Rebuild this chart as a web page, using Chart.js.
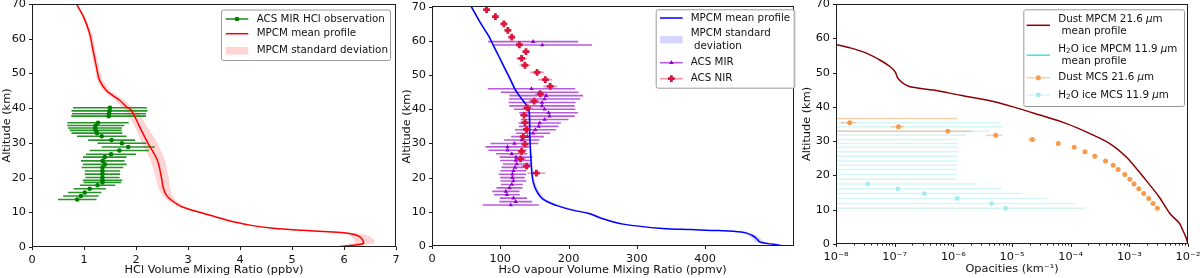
<!DOCTYPE html>
<html>
<head>
<meta charset="utf-8">
<script src="https://cdn.jsdelivr.net/npm/chart.js@4.4.1/dist/chart.umd.min.js"></script>
<style>
  html, body { margin: 0; padding: 0; background: #fff; }
  #wrap { position: relative; width: 1200px; height: 278px; overflow: hidden; }
  canvas { position: absolute; top: 0; }
</style>
</head>
<body>
<div id="wrap">
  <canvas id="hcl" width="400" height="278" style="left:0"></canvas>
  <canvas id="h2o" width="400" height="278" style="left:400px"></canvas>
  <canvas id="opa" width="400" height="278" style="left:800px"></canvas>
</div>
<script>
// ---------- panel 1: HCl ----------
const hclProfileAlt = [0, 0.5, 1, 2, 3, 3.6, 4.1, 4.5, 4.8, 5.4, 6.3, 7.8, 9.7, 11.6, 13.5, 15, 17.3, 20, 25, 29.8, 34.6, 39.4, 40.3, 42.2, 43.7, 45.1, 48, 51.8, 56.6, 61.4, 66, 70];
const hclMean = [5.83, 6.15, 6.37, 6.36, 6.30, 6.20, 6.00, 5.60, 5.20, 4.64, 4.19, 3.74, 3.29, 2.88, 2.68, 2.58, 2.52, 2.49, 2.41, 2.235, 2.07, 1.91, 1.82, 1.69, 1.55, 1.43, 1.30, 1.24, 1.175, 1.11, 1.00, 0.854];
const hclLow = [5.80, 6.05, 6.20, 6.20, 6.15, 6.08, 5.90, 5.50, 5.12, 4.58, 4.14, 3.70, 3.24, 2.82, 2.60, 2.50, 2.42, 2.38, 2.28, 2.12, 1.98, 1.80, 1.72, 1.61, 1.48, 1.37, 1.25, 1.20, 1.14, 1.08, 0.98, 0.84];
const hclHigh = [5.90, 6.35, 6.58, 6.58, 6.50, 6.38, 6.15, 5.72, 5.30, 4.70, 4.24, 3.80, 3.34, 2.94, 2.76, 2.70, 2.65, 2.63, 2.56, 2.42, 2.22, 2.02, 1.93, 1.78, 1.63, 1.50, 1.36, 1.29, 1.22, 1.16, 1.03, 0.87];

const hclObsAlt = [13.7, 14.7, 15.7, 16.8, 17.8, 18.6, 19.2, 20.0, 21.0, 21.9, 22.9, 23.8, 24.8, 25.9, 26.7, 27.8, 28.8, 29.9, 30.8, 31.9, 32.8, 33.6, 34.3, 35.0, 35.8, 37.7, 38.4, 39.2, 40.1];
const hclObs = [0.87, 0.94, 1.015, 1.11, 1.26, 1.355, 1.355, 1.355, 1.355, 1.355, 1.355, 1.40, 1.36, 1.40, 1.52, 1.68, 1.85, 1.73, 1.53, 1.34, 1.25, 1.225, 1.21, 1.225, 1.27, 1.475, 1.48, 1.49, 1.50];
const hclObsErr = [0.37, 0.34, 0.32, 0.31, 0.34, 0.36, 0.38, 0.33, 0.34, 0.34, 0.40, 0.42, 0.42, 0.42, 0.48, 0.57, 0.51, 0.47, 0.45, 0.475, 0.49, 0.50, 0.52, 0.55, 0.59, 0.72, 0.71, 0.73, 0.71];

// ---------- panel 2: H2O vapour ----------
const h2oProfileAlt = [0, 0.5, 0.8, 1.2, 2.0, 3.0, 3.7, 4.1, 4.5, 4.8, 5.1, 6.4, 8.0, 9.5, 10.5, 11.9, 13.7, 16.2, 19.0, 22.9, 31.8, 39.3, 41.2, 43.1, 45.8, 47.9, 51.7, 55.6, 58.9, 61.4, 65.2, 70];
const h2oMean = [516, 500, 488, 480, 476, 470, 462, 453, 420, 380, 338, 280, 250, 230, 206, 182, 162.5, 153, 148, 145.7, 143.3, 142.3, 138.4, 131.2, 121.7, 116.8, 107.3, 97.6, 89.4, 83.2, 71.2, 57.7];
const h2oLow = [513, 494, 481, 473, 470, 464, 457, 449, 417, 377, 335, 276, 246, 225, 201, 177, 158.5, 150, 146, 143.7, 141.5, 140.5, 136.4, 129.2, 119.7, 114.8, 105.5, 95.8, 87.6, 81.4, 69.6, 56.3];
const h2oHigh = [519, 506, 495, 487, 482, 476, 467, 457, 423, 383, 341, 284, 254, 235, 211, 187, 166.5, 156, 150, 147.7, 145.1, 144.1, 140.4, 133.2, 123.7, 118.8, 109.1, 99.4, 91.2, 85.0, 72.8, 59.1];

const mirAlt = [12, 13, 14, 15, 16, 17, 18, 19, 20, 21, 22, 23, 24, 25, 26, 27, 28, 29, 30, 31, 32, 33, 34, 35, 36, 37, 38, 39, 40, 41, 42, 43, 44, 45, 46, 58.8, 59.8];
const mirVmr = [115.4, 122.6, 119.2, 109.6, 108.2, 113.5, 116.8, 119.2, 117.8, 117.8, 119.2, 121.6, 124.0, 122.6, 123.1, 116.8, 110.6, 110.6, 120.7, 131.3, 139.9, 148.1, 151.4, 156.3, 157.7, 164.9, 172.1, 170.7, 164.9, 161.1, 161.1, 164.9, 167.3, 157.7, 145.7, 161.5, 148.1];
const mirErr = [41, 24, 20, 19, 20, 19, 16, 19, 18, 20, 19, 20, 20, 23, 24, 23, 28, 32, 35, 26, 24, 25, 30, 29, 31, 35, 37, 43, 45, 48, 49, 52, 54, 57, 64, 73, 66];

const nirAlt = [21.3, 23.4, 25.5, 27.7, 29.8, 32.0, 34.1, 36.1, 38.3, 40.4, 42.4, 44.5, 46.7, 48.7, 50.8, 52.9, 54.9, 56.9, 58.9, 61.1, 63.1, 65.0, 67.1, 69.2];
const nirVmr = [152.9, 138.5, 129.8, 131.2, 136.1, 133.7, 138.5, 136.1, 134.7, 139.5, 149.6, 158.6, 173.1, 165.9, 153.9, 136.1, 131.2, 137.6, 127.9, 116.8, 111.1, 105.3, 92.9, 79.9];
const nirErr = [13, 8, 8, 6, 5, 5, 6, 6, 6, 8, 8, 8, 10, 10, 10, 8, 8, 5, 3, 2, 2, 2, 2, 2];

// ---------- panel 3: opacities ----------
const dustProfileAlt = [0, 1.5, 3.0, 4.5, 6.0, 8.9, 13.8, 19.6, 25.4, 29.3, 32.2, 35.1, 37.6, 40.0, 42.0, 43.4, 44.9, 46.0, 48.1, 50.2, 51.7, 53.6, 55.6, 57.2, 58.2];
const dustProfile = [1e-2, 9.4e-3, 8.7e-3, 7.9e-3, 7.2e-3, 4.9e-3, 3.2e-3, 1.72e-3, 8.9e-4, 4.66e-4, 2.13e-4, 8.5e-5, 3.0e-5, 1.05e-5, 3.7e-6, 1.31e-6, 4.6e-7, 1.72e-7, 1.16e-7, 1.02e-7, 8.4e-8, 5.68e-8, 3.37e-8, 1.75e-8, 1e-8];
const iceProfile = []; // ice MPCM profile never comes above 1e-8 in the plotted range

// MCS levels; the top dust value and the upper ice values sit left of 1e-8, only their bars show
const dustMcsAlt = [10.4, 11.8, 13.3, 14.7, 16.1, 17.5, 18.9, 20.3, 21.7, 23.0, 24.2, 25.6, 26.9, 28.2, 29.3, 30.5, 31.7, 32.9, 34.2, 35.4, 36.6];
const dustMcs = [3.01e-3, 2.54e-3, 2.14e-3, 1.76e-3, 1.45e-3, 1.2e-3, 1.02e-3, 8.38e-4, 6.44e-4, 5.3e-4, 3.93e-4, 2.58e-4, 1.75e-4, 1.15e-4, 6.14e-5, 2.22e-5, 5.27e-6, 8.06e-7, 1.16e-7, 1.71e-8, 5e-9];
const dustMcsErr = [4e-5, 3e-5, 3e-5, 2.5e-5, 2e-5, 1.5e-5, 1.5e-5, 1.2e-5, 1e-5, 8e-6, 6e-6, 5e-6, 4e-6, 3e-6, 3e-6, 3.5e-6, 1.67e-6, 1.25e-6, 3e-8, 5e-9, 1.15e-6];
const iceMcsAlt = [10.4, 11.8, 13.3, 14.7, 16.1, 17.5, 18.9, 20.3, 21.7, 23.0, 24.2, 25.6, 26.9, 28.2, 29.3, 30.5, 31.7, 32.9, 34.2, 35.4];
const iceMcs = [7.8e-6, 4.5e-6, 1.16e-6, 3.22e-7, 1.13e-7, 3.45e-8, 1e-9, 1e-9, 1e-9, 1e-9, 1e-9, 1e-9, 1e-9, 1e-9, 1e-9, 1e-9, 1e-9, 1e-9, 1e-9, 1e-9];
const iceMcsErr = [1.74e-4, 1.08e-4, 3.86e-5, 1.43e-5, 6.6e-6, 2.47e-6, 1.16e-6, 1.17e-6, 1.17e-6, 1.18e-6, 1.18e-6, 1.2e-6, 1.2e-6, 1.2e-6, 1.2e-6, 1.18e-6, 1.65e-6, 4.1e-6, 7.1e-6, 6.1e-6];

const opacityDecades = [-8, -7, -6, -5, -4, -3, -2];

const FONT = 'DejaVu Sans';
const SUPER = {'-': '\u207b', '0': '\u2070', '1': '\u00b9', '2': '\u00b2', '3': '\u00b3', '4': '\u2074', '5': '\u2075', '6': '\u2076', '7': '\u2077', '8': '\u2078', '9': '\u2079'};

function pts(xs, ys) {
    return xs.map((v, i) => ({x: v, y: ys[i]}));
}

// legend boxes, in canvas pixels: [datasetIndex, rowY]
const legendSpecs = {
    hcl: {box: [221, 9.5, 169, 50.5], handle: [225.7, 248.3], textX: 256.7, rows: [[0, 19], [1, 33.7], [2, 50.7]]},
    h2o: {box: [255.7, 9.3, 138.6, 78.4], handle: [260, 282.7], textX: 290.7, rows: [[2, 18], [3, 39.7], [1, 62.7], [0, 78.7]]},
    opa: {box: [223.3, 9.3, 160.7, 96.7], handle: [226.7, 250], textX: 258.3, rows: [[2, 25.3], [3, 55.2], [1, 77.7], [0, 95]]}
};

// _{..} subscript, $..$ italic
function drawRich(ctx, text, x, y, size) {
    const re = /_\{([^}]*)\}|\$([^$]*)\$|([^_$]+)/g;
    let m;
    while ((m = re.exec(text))) {
        let t = m[3], s = size, dy = 0, style = '';
        if (m[1] !== undefined) { t = m[1]; s = size * 0.7; dy = size * 0.25; }
        if (m[2] !== undefined) { t = m[2]; style = 'italic '; }
        ctx.font = style + s + 'px "' + FONT + '"';
        ctx.fillText(t, x, y + dy);
        x += ctx.measureText(t).width;
    }
}

const profileExtras = {
    id: 'profileExtras',
    beforeDatasetsDraw(chart) {
        const {ctx, chartArea: a, scales: {x, y}} = chart;
        ctx.save();
        ctx.beginPath();
        ctx.rect(a.left, a.top, a.width, a.height);
        ctx.clip();
        // spread band between two datasets
        chart.data.datasets.forEach((ds, i) => {
            if (ds.bandWith === undefined) return;
            const lo = chart.getDatasetMeta(i).data;
            const hi = chart.getDatasetMeta(ds.bandWith).data;
            ctx.beginPath();
            lo.forEach((p, k) => (k ? ctx.lineTo(p.x, p.y) : ctx.moveTo(p.x, p.y)));
            for (let k = hi.length - 1; k >= 0; k--) ctx.lineTo(hi[k].x, hi[k].y);
            ctx.closePath();
            ctx.fillStyle = ds.backgroundColor;
            ctx.fill();
        });
        // horizontal error bars
        chart.data.datasets.forEach(ds => {
            if (!ds.xerr) return;
            ctx.strokeStyle = ds.errColor;
            ctx.lineWidth = ds.errWidth;
            ds.data.forEach((p, k) => {
                const e = ds.xerr[k];
                const left = (x.type === 'logarithmic' && p.x - e <= 0) ? a.left - 5 : x.getPixelForValue(p.x - e);
                const right = x.getPixelForValue(p.x + e);
                const py = y.getPixelForValue(p.y);
                ctx.beginPath();
                ctx.moveTo(left, py);
                ctx.lineTo(right, py);
                ctx.stroke();
            });
        });
        ctx.restore();
    },
    afterDatasetsDraw(chart) {
        const {ctx, chartArea: a, scales: {x, y}} = chart;
        const L = Math.floor(a.left) + 0.5, R = Math.ceil(a.right) - 0.5;
        const T = Math.floor(a.top) + 0.5, B = Math.ceil(a.bottom) - 0.5;
        ctx.save();
        ctx.strokeStyle = '#1e1e1e';
        ctx.lineWidth = 1;
        ctx.strokeRect(L, T, R - L, B - T);
        ctx.beginPath();
        x.ticks.forEach(t => {
            const px = Math.round(x.getPixelForValue(t.value)) + 0.5;
            ctx.moveTo(px, B);
            ctx.lineTo(px, B + (t.major === false ? 2 : 3.5));
        });
        y.ticks.forEach(t => {
            const py = Math.round(y.getPixelForValue(t.value)) + 0.5;
            ctx.moveTo(L, py);
            ctx.lineTo(L - 3.5, py);
        });
        ctx.stroke();
        ctx.restore();
    },
    afterDraw(chart) {
        const spec = legendSpecs[chart.canvas.id];
        const ctx = chart.ctx;
        const [bx, by, bw, bh] = spec.box;
        const [h0, h1] = spec.handle;
        ctx.save();
        ctx.beginPath();
        ctx.roundRect(bx + 0.5, by + 0.5, bw, bh, 2);
        ctx.fillStyle = 'rgba(255,255,255,0.85)';
        ctx.fill();
        ctx.strokeStyle = '#9a9a9a';
        ctx.lineWidth = 1;
        ctx.stroke();
        spec.rows.forEach(([di, ry]) => {
            const ds = chart.data.datasets[di];
            if (ds.legendKind === 'band') {
                ctx.fillStyle = ds.backgroundColor;
                ctx.fillRect(h0, ry - 3.8, h1 - h0, 7.6);
            } else if (ds.legendKind === 'line') {
                ctx.strokeStyle = ds.borderColor;
                ctx.lineWidth = ds.borderWidth;
                ctx.beginPath();
                ctx.moveTo(h0, ry);
                ctx.lineTo(h1, ry);
                ctx.stroke();
            } else {
                ctx.strokeStyle = ds.errColor;
                ctx.lineWidth = ds.errWidth;
                ctx.beginPath();
                ctx.moveTo(h0, ry);
                ctx.lineTo(h1, ry);
                ctx.stroke();
                ctx.fillStyle = ds.pointBackgroundColor;
                ctx.strokeStyle = ds.pointBorderColor;
                ctx.lineWidth = ds.pointBorderWidth;
                Chart.helpers.drawPoint(ctx, {pointStyle: ds.pointStyle, radius: ds.pointRadius, borderWidth: ds.pointBorderWidth, rotation: 0}, (h0 + h1) / 2, ry);
            }
            const lines = ds.label.split('\n');
            ctx.fillStyle = '#111';
            ctx.textBaseline = 'middle';
            ctx.textAlign = 'left';
            lines.forEach((ln, k) => {
                drawRich(ctx, ln, spec.textX, ry + (k - (lines.length - 1) / 2) * 12.4, 10.3);
            });
        });
        ctx.restore();
    }
};

function makeChart(id, datasets, xScale, xTicks, xTitle, geom) {
    return new Chart(document.getElementById(id), {
        type: 'line',
        data: {datasets: datasets},
        plugins: [profileExtras],
        options: {
            responsive: false,
            animation: false,
            devicePixelRatio: 1,
            events: [],
            layout: {padding: geom.pad},
            plugins: {legend: {display: false}, tooltip: {enabled: false}},
            scales: {
                x: Object.assign({
                    position: 'bottom',
                    grid: {display: false, drawTicks: true, tickLength: 4},
                    border: {display: false},
                    ticks: Object.assign({color: '#111', padding: 2, autoSkip: false, maxRotation: 0, minRotation: 0, font: {family: FONT, size: 11.3}}, xTicks),
                    title: {display: true, text: xTitle, color: '#111', padding: {top: 0, bottom: geom.titlePad}, font: {family: FONT, size: 11.3}},
                    afterFit(s) { s.height = geom.xHeight; s.paddingLeft = 0; s.paddingRight = 0; }
                }, xScale),
                y: {
                    type: 'linear',
                    position: 'left',
                    min: 0,
                    max: 70,
                    grid: {display: false, drawTicks: true, tickLength: 4},
                    border: {display: false},
                    ticks: {stepSize: 10, color: '#111', padding: 2, font: {family: FONT, size: 11.3}},
                    title: {display: true, text: 'Altitude (km)', color: '#111', padding: {top: 0, bottom: 0}, font: {family: FONT, size: 11.3}},
                    afterFit(s) { s.width = geom.yWidth; s.paddingTop = 0; s.paddingBottom = 0; }
                }
            }
        }
    });
}

// ---- HCl ----
makeChart('hcl', [
    {
        label: 'ACS MIR HCl observation', legendKind: 'err',
        data: pts(hclObs, hclObsAlt), xerr: hclObsErr, errColor: 'rgba(0,128,0,0.85)', errWidth: 1.6,
        showLine: false, pointStyle: 'circle', pointRadius: 2.3, pointBorderWidth: 0,
        pointBackgroundColor: '#008000', pointBorderColor: '#008000'
    },
    {
        label: 'MPCM mean profile', legendKind: 'line',
        data: pts(hclMean, hclProfileAlt), borderColor: '#ff0000', borderWidth: 1.5, pointRadius: 0, fill: false, tension: 0.35
    },
    {
        label: 'MPCM standard deviation', legendKind: 'band', bandWith: 3,
        data: pts(hclLow, hclProfileAlt), showLine: false, pointRadius: 0, backgroundColor: 'rgba(255,0,0,0.17)'
    },
    {label: '', data: pts(hclHigh, hclProfileAlt), showLine: false, pointRadius: 0}
], {type: 'linear', min: 0, max: 7}, {stepSize: 1}, 'HCl Volume Mixing Ratio (ppbv)',
{yWidth: 32, xHeight: 31, titlePad: 1, pad: {left: 0, right: 4, top: 3, bottom: 0}});

// ---- H2O ----
makeChart('h2o', [
    {
        label: 'ACS NIR', legendKind: 'err',
        data: pts(nirVmr, nirAlt), xerr: nirErr, errColor: 'rgba(220,20,60,0.45)', errWidth: 1.6,
        showLine: false, pointStyle: 'cross', pointRadius: 3.4, pointBorderWidth: 2.8,
        pointBackgroundColor: '#dc143c', pointBorderColor: '#dc143c'
    },
    {
        label: 'ACS MIR', legendKind: 'err',
        data: pts(mirVmr, mirAlt), xerr: mirErr, errColor: 'rgba(148,0,211,0.65)', errWidth: 1.6,
        showLine: false, pointStyle: 'triangle', pointRadius: 2.6, pointBorderWidth: 0,
        pointBackgroundColor: '#9400d3', pointBorderColor: '#9400d3'
    },
    {
        label: 'MPCM mean profile', legendKind: 'line',
        data: pts(h2oMean, h2oProfileAlt), borderColor: '#0000ff', borderWidth: 1.5, pointRadius: 0, fill: false, tension: 0.35
    },
    {
        label: 'MPCM standard\n deviation', legendKind: 'band', bandWith: 4,
        data: pts(h2oLow, h2oProfileAlt), showLine: false, pointRadius: 0, backgroundColor: 'rgba(0,0,255,0.16)'
    },
    {label: '', data: pts(h2oHigh, h2oProfileAlt), showLine: false, pointRadius: 0}
], {
    type: 'linear', min: 0, max: 529,
    afterBuildTicks(s) { s.ticks = s.ticks.filter(t => t.value % 100 === 0); }
}, {stepSize: 100}, 'H\u2082O vapour Volume Mixing Ratio (ppmv)',
{yWidth: 32, xHeight: 32, titlePad: 1, pad: {left: 0, right: 1, top: 3, bottom: 0}});

// ---- opacities ----
makeChart('opa', [
    {
        label: 'H_{2}O ice MCS 11.9 $\u03bc$m', legendKind: 'err',
        data: pts(iceMcs, iceMcsAlt), xerr: iceMcsErr, errColor: 'rgba(150,232,236,0.4)', errWidth: 1.5,
        showLine: false, pointStyle: 'circle', pointRadius: 2.4, pointBorderWidth: 0,
        pointBackgroundColor: '#a2ecef', pointBorderColor: '#a2ecef'
    },
    {
        label: 'Dust MCS 21.6 $\u03bc$m', legendKind: 'err',
        data: pts(dustMcs, dustMcsAlt), xerr: dustMcsErr, errColor: 'rgba(248,154,76,0.45)', errWidth: 1.5,
        showLine: false, pointStyle: 'circle', pointRadius: 2.5, pointBorderWidth: 0,
        pointBackgroundColor: '#f89a4c', pointBorderColor: '#f89a4c'
    },
    {
        label: 'Dust MPCM 21.6 $\u03bc$m\n mean profile', legendKind: 'line',
        data: pts(dustProfile, dustProfileAlt), borderColor: '#8b0000', borderWidth: 1.5, pointRadius: 0, fill: false, tension: 0.3
    },
    {
        label: 'H_{2}O ice MPCM 11.9 $\u03bc$m\n mean profile', legendKind: 'line',
        data: iceProfile, borderColor: '#3fe3ea', borderWidth: 1.5, pointRadius: 0, fill: false
    }
], {
    type: 'logarithmic', min: 1e-8, max: 1e-2,
    afterBuildTicks(s) {
        const t = [];
        opacityDecades.forEach((e, i) => {
            t.push({value: Math.pow(10, e), major: true});
            if (i < opacityDecades.length - 1) {
                for (let k = 2; k <= 9; k++) t.push({value: k * Math.pow(10, e), major: false});
            }
        });
        s.ticks = t;
    }
}, {
    callback(v, i, ticks) {
        if (!ticks[i].major) return '';
        const e = Math.round(Math.log10(v));
        return '10' + String(e).split('').map(c => SUPER[c]).join('');
    }
}, 'Opacities (km\u207b\u00b9)',
{yWidth: 36, xHeight: 34, titlePad: 2, pad: {left: 0, right: 12, top: 4, bottom: 0}});
</script>
</body>
</html>
